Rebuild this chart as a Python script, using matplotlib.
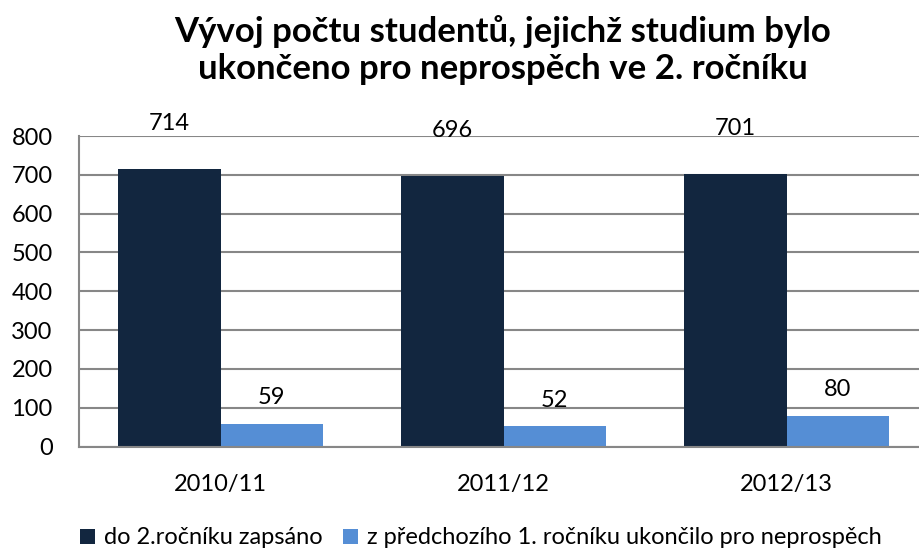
import matplotlib
matplotlib.use("Agg")
import matplotlib.pyplot as plt
import numpy as np

title = "Vývoj počtu studentů, jejichž studium bylo\nukončeno pro neprospěch ve 2. ročníku"
categories = ["2010/11", "2011/12", "2012/13"]
series_names = ["do 2.ročníku zapsáno", "z předchozího 1. ročníku ukončilo pro neprospěch"]
enrolled = [714, 696, 701]
failed = [59, 52, 80]
yticks = [0, 100, 200, 300, 400, 500, 600, 700, 800]

plt.rcParams['font.family'] = ['Lato', 'DejaVu Sans']

fig = plt.figure(figsize=(9.19, 5.51), dpi=100)
W, H = 919, 551
left, right, top, bottom = 79, 928, 136, 446.6
ax = fig.add_axes([left / W, 1 - bottom / H, (right - left) / W, (bottom - top) / H])

x = np.arange(len(categories))
bw = 0.362
c1 = "#12263F"
c2 = "#558ED5"
b1 = ax.bar(x - bw / 2, enrolled, bw, color=c1, label=series_names[0], zorder=3)
b2 = ax.bar(x + bw / 2, failed, bw, color=c2, label=series_names[1], zorder=3)

fs = 17
for xi, v in zip(x - bw / 2, enrolled):
    ax.annotate(str(v), (xi, v), xytext=(0, 33), textcoords="offset points",
                ha="center", va="center", fontsize=fs, annotation_clip=False)
for xi, v in zip(x + bw / 2, failed):
    ax.annotate(str(v), (xi, v), xytext=(0, 19), textcoords="offset points",
                ha="center", va="center", fontsize=fs)

ax.set_xlim(-0.5, len(categories) - 0.5)
ax.set_ylim(0, 800)
ax.set_yticks(yticks)
ax.set_xticks(x)
ax.set_xticklabels(categories, fontsize=fs)
ax.tick_params(axis="y", labelsize=fs, length=0, pad=19)
ax.tick_params(axis="x", length=0, pad=20)
ax.grid(axis="y", color="#878787", linewidth=1.5, zorder=0)
for s in ["top", "right"]:
    ax.spines[s].set_visible(False)
for s in ["left", "bottom"]:
    ax.spines[s].set_color("#878787")
    ax.spines[s].set_linewidth(1.5)
ax.spines["bottom"].set_zorder(4)

fig.text(503 / W, 1 - 50 / H, title, ha="center", va="center", fontsize=25,
         fontweight="bold", linespacing=1.2)

fig.legend(handles=[b1, b2], loc="center", bbox_to_anchor=(481 / W, 1 - 538 / H),
           ncol=2, frameon=False, fontsize=fs, handlelength=0.65, handleheight=0.6,
           handletextpad=0.38, columnspacing=0.85, borderpad=0, borderaxespad=0)

fig.savefig("out.png", dpi=100)
